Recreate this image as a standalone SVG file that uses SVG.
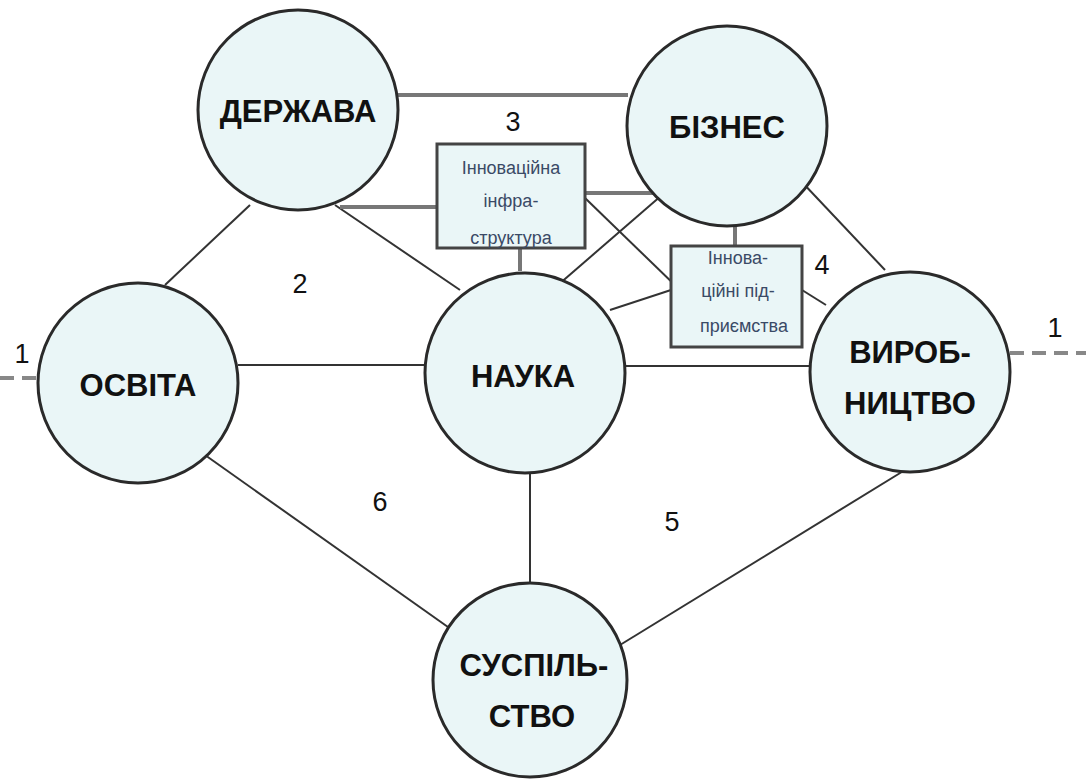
<svg xmlns="http://www.w3.org/2000/svg" width="1086" height="780" viewBox="0 0 1086 780">
<style>
.c{fill:#eaf6f7;stroke:#2a2a2a;stroke-width:3}
.t{font-family:"Liberation Sans",Arial,sans-serif;font-weight:bold;font-size:31px;fill:#111;text-anchor:middle}
.b{fill:#eaf6f7;stroke:#444;stroke-width:3}
.bt{font-family:"Liberation Sans",Arial,sans-serif;font-size:18px;fill:#3a4a66;text-anchor:middle}
.n{font-family:"Liberation Sans",Arial,sans-serif;font-size:27px;fill:#111;text-anchor:middle}
.l{stroke:#333;stroke-width:2;fill:none}
.g{stroke:#777;stroke-width:4;fill:none}
.d{stroke:#888;stroke-width:4;fill:none;stroke-dasharray:14 8}
</style>
<rect width="1086" height="780" fill="#fff"/>
<g id="connectors">
<line class="g" x1="396" y1="95" x2="628" y2="95"/>
<line class="l" x1="250" y1="205" x2="165" y2="285"/>
<line class="l" x1="335" y1="205" x2="460" y2="290"/>
<line class="g" x1="340" y1="207" x2="437" y2="207"/>
<line class="g" x1="520" y1="248" x2="520" y2="271"/>
<line class="g" x1="585" y1="193" x2="656" y2="193"/>
<line class="l" x1="585" y1="198" x2="680" y2="290"/>
<line class="l" x1="558" y1="285" x2="662" y2="195"/>
<line class="g" x1="735" y1="224" x2="735" y2="246"/>
<line class="l" x1="800" y1="180" x2="885" y2="270"/>
<line class="l" x1="610" y1="310" x2="671" y2="290"/>
<line class="l" x1="802" y1="290" x2="826" y2="305"/>
<line class="l" x1="238" y1="365" x2="425" y2="365"/>
<line class="l" x1="625" y1="366" x2="811" y2="366"/>
<line class="l" x1="205" y1="455" x2="455" y2="632"/>
<line class="l" x1="530" y1="470" x2="530" y2="582"/>
<line class="l" x1="905" y1="470" x2="620" y2="645"/>
<line class="d" x1="0" y1="378" x2="38" y2="378"/>
<line class="d" x1="1010" y1="353" x2="1086" y2="353"/>
</g>
<g id="derzhava"><circle class="c" cx="298" cy="110" r="100"/><text class="t" x="298" y="122">ДЕРЖАВА</text></g>
<g id="biznes"><circle class="c" cx="727" cy="126" r="100"/><text class="t" x="727" y="138">БІЗНЕС</text></g>
<g id="osvita"><circle class="c" cx="138" cy="383" r="100"/><text class="t" x="138" y="396">ОСВІТА</text></g>
<g id="nauka"><circle class="c" cx="525" cy="373" r="100"/><text class="t" x="523" y="387">НАУКА</text></g>
<g id="vyrobnytstvo"><circle class="c" cx="910" cy="372" r="100"/><text class="t" x="910" y="363">ВИРОБ-</text><text class="t" x="910" y="414">НИЦТВО</text></g>
<g id="suspilstvo"><circle class="c" cx="530" cy="680" r="97"/><text class="t" x="534" y="676">СУСПІЛЬ-</text><text class="t" x="532" y="727">СТВО</text></g>
<g id="infra"><rect class="b" x="437" y="144" width="148" height="104"/><text class="bt" x="511" y="174">Інноваційна</text><text class="bt" x="511" y="207">інфра-</text><text class="bt" x="511" y="244">структура</text></g>
<g id="pidpryiemstva"><rect class="b" x="671" y="246" width="131" height="101"/><text class="bt" x="738" y="264">Іннова-</text><text class="bt" x="738" y="297">ційні під-</text><text class="bt" x="744" y="332">приємства</text></g>
<g id="labels">
<text class="n" x="22" y="363">1</text>
<text class="n" x="1055" y="337">1</text>
<text class="n" x="300" y="293">2</text>
<text class="n" x="513" y="131">3</text>
<text class="n" x="822" y="274">4</text>
<text class="n" x="672" y="531">5</text>
<text class="n" x="380" y="511">6</text>
</g>
</svg>
